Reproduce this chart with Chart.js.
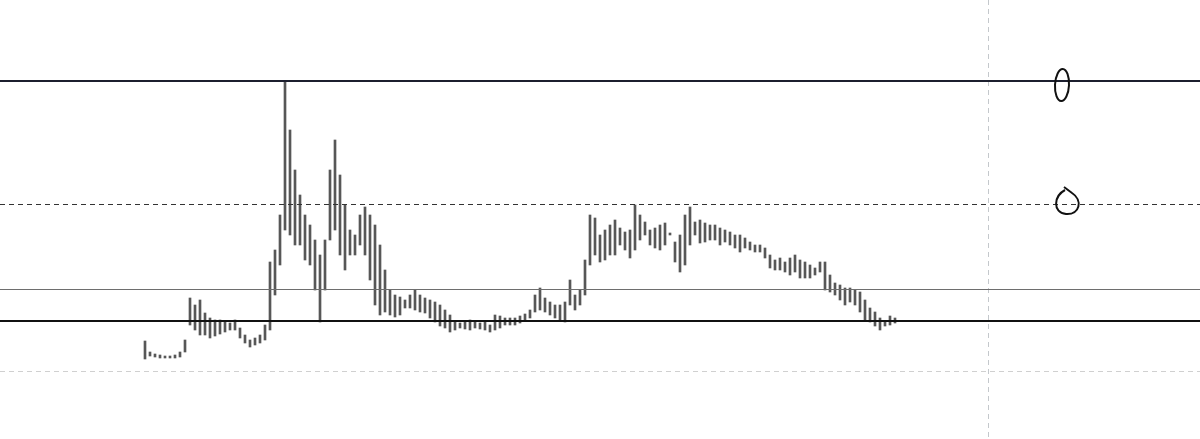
<!DOCTYPE html>
<html>
<head>
<meta charset="utf-8">
<title>Price chart</title>
<script src="https://cdn.jsdelivr.net/npm/chart.js@4.4.1/dist/chart.umd.min.js"></script>
<style>
  html, body { margin: 0; padding: 0; background: #fff; }
  canvas { display: block; }
</style>
</head>
<body>
<canvas id="chart" width="1200" height="439"></canvas>
<script>
// Highs y lows de cada barra (unidades arbitrarias)
const highs = [
  98, 87, 85, 84, 83, 83, 84, 87, 99, 141,
  134, 139, 126, 121, 119, 119, 117, 116, 119, 111,
  104, 99, 101, 104, 114, 177, 189, 224, 357, 309,
  269, 244, 224, 214, 199, 184, 199, 269, 299, 264,
  234, 209, 184, 224, 232, 224, 214, 194, 169, 149,
  144, 142, 139, 144, 149, 144, 141, 139, 137, 134,
  129, 124, 117, 116, 117, 119, 117, 116, 117, 114,
  124, 123, 121, 121, 121, 123, 125, 129, 144, 151,
  141, 137, 134, 134, 137, 159, 144, 149, 179, 224,
  221, 204, 209, 214, 219, 211, 207, 209, 234, 224,
  217, 209, 211, 214, 216, 204, 197, 204, 224, 232,
  217, 219, 216, 214, 214, 211, 209, 207, 204, 204,
  201, 197, 194, 194, 191, 184, 179, 181, 177, 181,
  184, 179, 177, 174, 171, 177, 177, 164, 156, 154,
  151, 151, 149, 147, 139, 131, 127, 121, 117, 123,
  121
];
const lows = [
  80, 83, 82, 81, 81, 81, 81, 82, 87, 114,
  109, 104, 104, 101, 103, 105, 107, 109, 109, 101,
  96, 92, 94, 96, 99, 109, 144, 174, 209, 204,
  194, 194, 179, 174, 149, 117, 149, 199, 209, 184,
  169, 184, 204, 194, 184, 159, 134, 124, 127, 124,
  122, 124, 131, 131, 129, 127, 126, 121, 117, 113,
  111, 107, 109, 111, 110, 109, 111, 110, 109, 107,
  109, 111, 114, 114, 114, 116, 119, 121, 127, 129,
  127, 124, 121, 119, 117, 134, 129, 134, 144, 174,
  184, 177, 179, 184, 184, 194, 189, 181, 189, 199,
  204, 194, 191, 189, 194, 204, 177, 167, 174, 194,
  204, 196, 197, 199, 199, 194, 197, 194, 191, 187,
  191, 189, 187, 187, 181, 171, 169, 169, 167, 164,
  167, 161, 161, 161, 164, 167, 149, 147, 144, 139,
  134, 137, 134, 127, 119, 117, 113, 109, 113, 114,
  116
];

// Niveles horizontales dibujados sobre el grafico
const levelTop = 358;
const levelMid = 235;
const levelThin = 150;
const levelBase = 118;
const levelLow = 68;

// Indice de la linea vertical (futuro)
const markerIndex = 168.6;

// Marcas a mano alzada (indice, nivel)
const handMarks = [
  { index: 183.4, level: 354, shape: 'oval' },
  { index: 184.6, level: 237, shape: 'loop' }
];

const bars = highs.map((h, i) => ({ x: i, y: [lows[i], h] }));

const levelsPlugin = {
  id: 'levels',
  afterDatasetsDraw(chart) {
    const { ctx, chartArea, scales: { x, y } } = chart;
    const hLine = (value, color, width, dash) => {
      const py = Math.round(y.getPixelForValue(value)) + (width % 2 ? 0.5 : 0);
      ctx.save();
      ctx.strokeStyle = color;
      ctx.lineWidth = width;
      ctx.setLineDash(dash);
      ctx.beginPath();
      ctx.moveTo(chartArea.left, py);
      ctx.lineTo(chartArea.right, py);
      ctx.stroke();
      ctx.restore();
    };

    // vertical punteada
    const vx = Math.round(x.getPixelForValue(markerIndex)) + 0.5;
    ctx.save();
    ctx.strokeStyle = '#c4c8cc';
    ctx.lineWidth = 1;
    ctx.setLineDash([5, 4]);
    ctx.beginPath();
    ctx.moveTo(vx, chartArea.top);
    ctx.lineTo(vx, chartArea.bottom);
    ctx.stroke();
    ctx.restore();

    hLine(levelLow, '#d0d0d0', 1, [5, 4]);
    hLine(levelThin, '#6e6e6e', 1, []);
    hLine(levelMid, '#333', 1, [5, 4]);
    hLine(levelBase, '#111', 2, []);
    hLine(levelTop, '#1c1f2e', 2, []);

    // marcas a mano
    ctx.save();
    ctx.strokeStyle = '#111';
    ctx.lineWidth = 2;
    ctx.setLineDash([]);
    handMarks.forEach(m => {
      const cx = x.getPixelForValue(m.index);
      const cy = y.getPixelForValue(m.level);
      ctx.beginPath();
      if (m.shape === 'oval') {
        ctx.ellipse(cx, cy, 7, 16, 0.05, 0, Math.PI * 2);
      } else {
        ctx.moveTo(cx - 3, cy - 12);
        ctx.bezierCurveTo(cx - 14, cy - 6, cx - 16, cy + 10, cx - 2, cy + 12);
        ctx.bezierCurveTo(cx + 12, cy + 13, cx + 15, cy - 2, cx + 4, cy - 9);
        ctx.lineTo(cx - 4, cy - 15);
      }
      ctx.stroke();
    });
    ctx.restore();
  }
};

new Chart(document.querySelector('#chart'), {
  type: 'bar',
  data: {
    datasets: [{
      data: bars,
      backgroundColor: '#575757',
      barThickness: 2,
      minBarLength: 2,
      borderSkipped: false
    }]
  },
  options: {
    responsive: false,
    animation: false,
    layout: { padding: 0 },
    plugins: { legend: { display: false }, tooltip: { enabled: false } },
    scales: {
      x: { type: 'linear', min: -29, max: 211, offset: false, display: false },
      y: { min: 0, max: 439, display: false }
    }
  },
  plugins: [levelsPlugin]
});
</script>
</body>
</html>
